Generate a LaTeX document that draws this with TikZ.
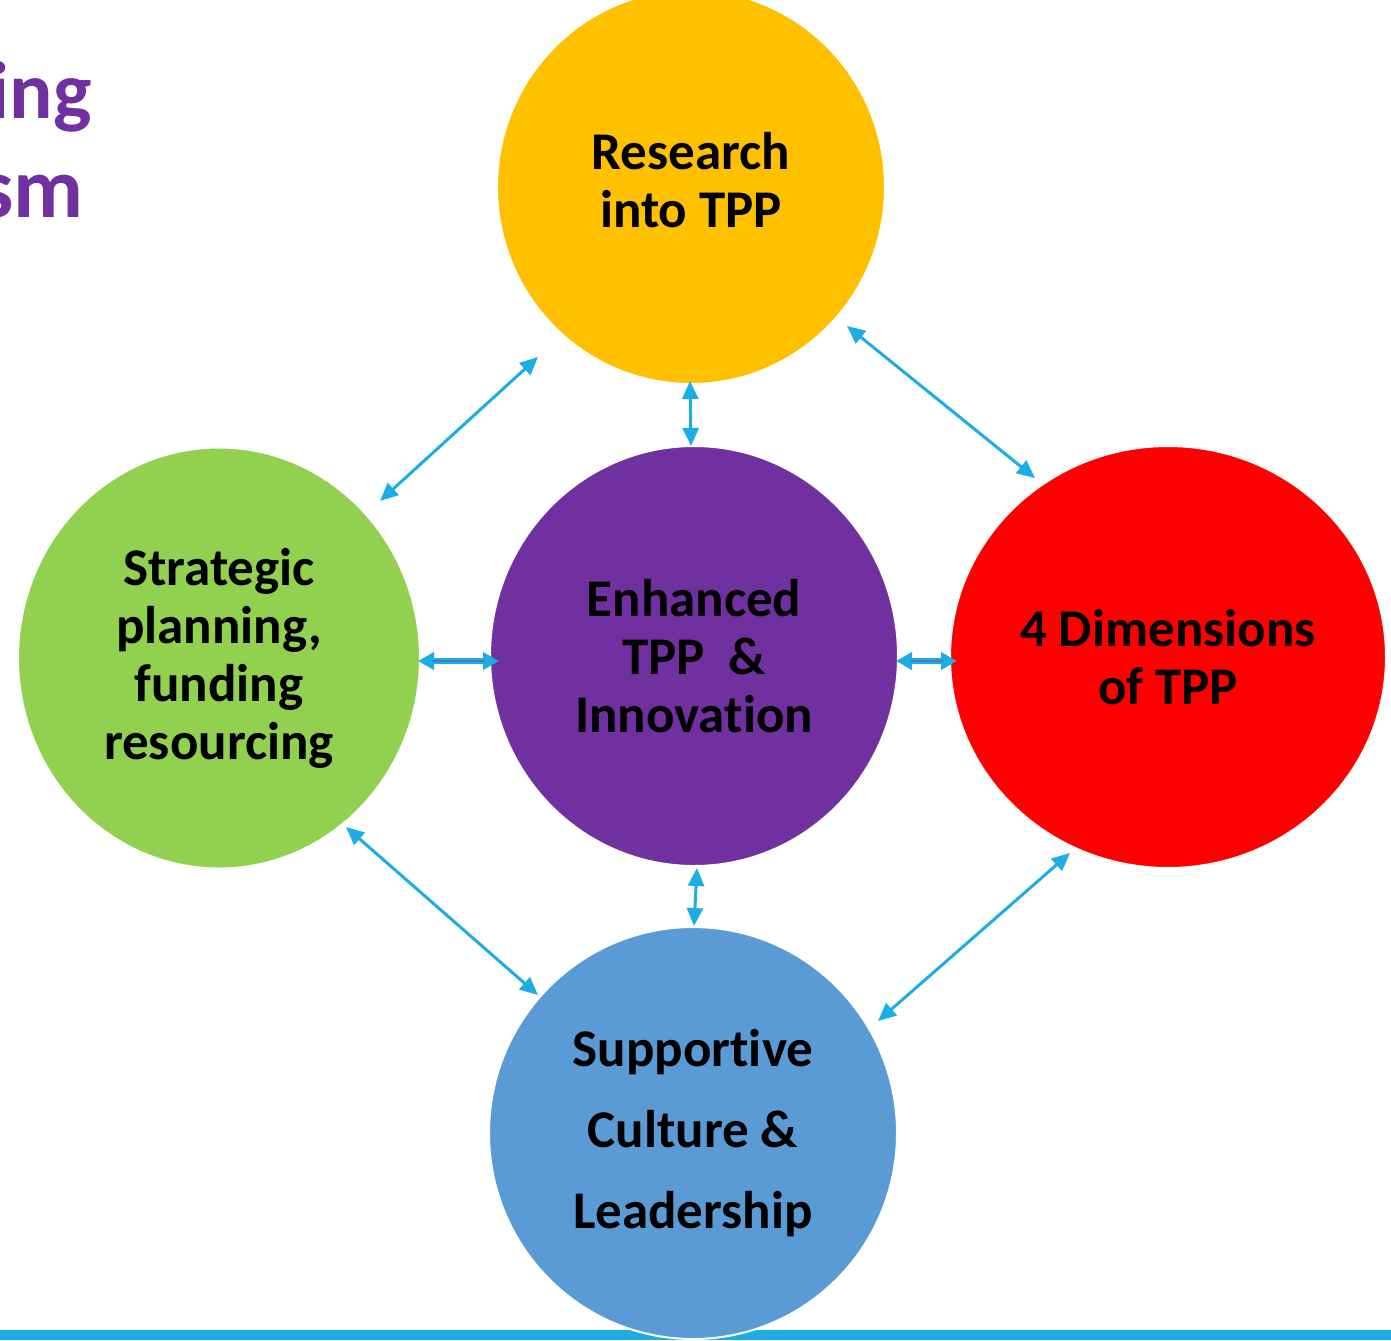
\documentclass[tikz,border=0pt]{standalone}
\usepackage{fontspec}
\setmainfont{Carlito}[Ligatures=NoCommon]
\usetikzlibrary{shapes.geometric,arrows.meta}

\definecolor{tppyellow}{HTML}{FFC000}
\definecolor{tppgreen}{HTML}{92D050}
\definecolor{tpppurple}{HTML}{7030A0}
\definecolor{tppred}{HTML}{FF0000}
\definecolor{tppblue}{HTML}{5B9BD5}
\definecolor{linkcyan}{HTML}{1CADE4}
\definecolor{linkcore}{HTML}{3F7FBF}

\begin{document}
\begin{tikzpicture}[x=0.5pt,y=-0.5pt,
  bubble/.style={ellipse, draw=white, line width=1pt, inner sep=0pt,
    align=center, text=black,
    font=\fontsize{26.5}{29}\selectfont\bfseries},
  bubbletext/.style={inner sep=0pt, align=center, text=black,
    font=\fontsize{26.5}{29}\selectfont\bfseries},
  link/.style={draw=linkcyan, line width=1.5pt, {Triangle[length=9pt,width=8pt]}-{Triangle[length=9pt,width=8pt]}},
  widelink/.style={draw=linkcyan, line width=2.6pt, {Triangle[length=8pt,width=8.5pt]}-{Triangle[length=8pt,width=8.5pt]}},
  linkcorestyle/.style={draw=linkcore, line width=0.8pt, shorten <=7pt, shorten >=7pt},
  heading/.style={inner sep=0pt, text=tpppurple, font=\bfseries}]

\clip (0,0) rectangle (1391,1340);
\useasboundingbox (0,0) rectangle (1391,1340);
\fill[white] (0,0) rectangle (1391,1340);

% title fragments
\node[heading, anchor=base east, font=\fontsize{40.5}{48}\selectfont\bfseries]
  (titleA) at (92,118) {ing};
\node[heading, anchor=base east, font=\fontsize{43}{52}\selectfont\bfseries]
  (titleB) at (84,217) {sm};

% bottom rule
\fill[linkcyan] (0,1330) rectangle (1391,1340);

% bubbles
\node[bubble, fill=tppyellow, minimum width=194pt, minimum height=197pt]
  (research) at (691,187) {};
\node[bubbletext] (researchtext) at (691,180) {Research\\into TPP};
\node[bubble, fill=tppgreen, minimum width=201pt, minimum height=210.5pt]
  (strategy) at (219,658) {Strategic\\planning,\\funding\\resourcing};
\node[bubble, fill=tpppurple, minimum width=204pt, minimum height=210pt]
  (core) at (694,656) {Enhanced\\TPP\ \ \&\\Innovation};
\node[bubble, fill=tppred, minimum width=218pt, minimum height=211pt]
  (dims) at (1168,657) {4 Dimensions\\of TPP};
\node[bubble, fill=tppblue, minimum width=204pt, minimum height=206pt,
  font=\fontsize{26.5}{40.5}\selectfont\bfseries]
  (culture) at (693,1133) {Supportive\\Culture \&\\Leadership};

% connector ends
\coordinate (rsA) at (538,357);
\coordinate (rsB) at (380,501);
\coordinate (rdA) at (847,326);
\coordinate (rdB) at (1035,478);
\coordinate (rcA) at (690,381);
\coordinate (rcB) at (691,446);
\coordinate (ccA) at (697,868);
\coordinate (ccB) at (694,926);
\coordinate (scA) at (418,661);
\coordinate (scB) at (499,661);
\coordinate (cdA) at (896,661);
\coordinate (cdB) at (957,661);
\coordinate (suA) at (346,827);
\coordinate (suB) at (538,995);
\coordinate (duA) at (1070,853);
\coordinate (duB) at (878,1021);

% connectors
\draw[link] (rsA) -- (rsB);
\draw[link] (rdA) -- (rdB);
\draw[link] (rcA) -- (rcB);
\draw[link] (ccA) -- (ccB);
\draw[link] (suA) -- (suB);
\draw[link] (duA) -- (duB);
\draw[widelink] (scA) -- (scB);
\draw[linkcorestyle] (scA) -- (scB);
\draw[widelink] (cdA) -- (cdB);
\draw[linkcorestyle] (cdA) -- (cdB);
\end{tikzpicture}
\end{document}
